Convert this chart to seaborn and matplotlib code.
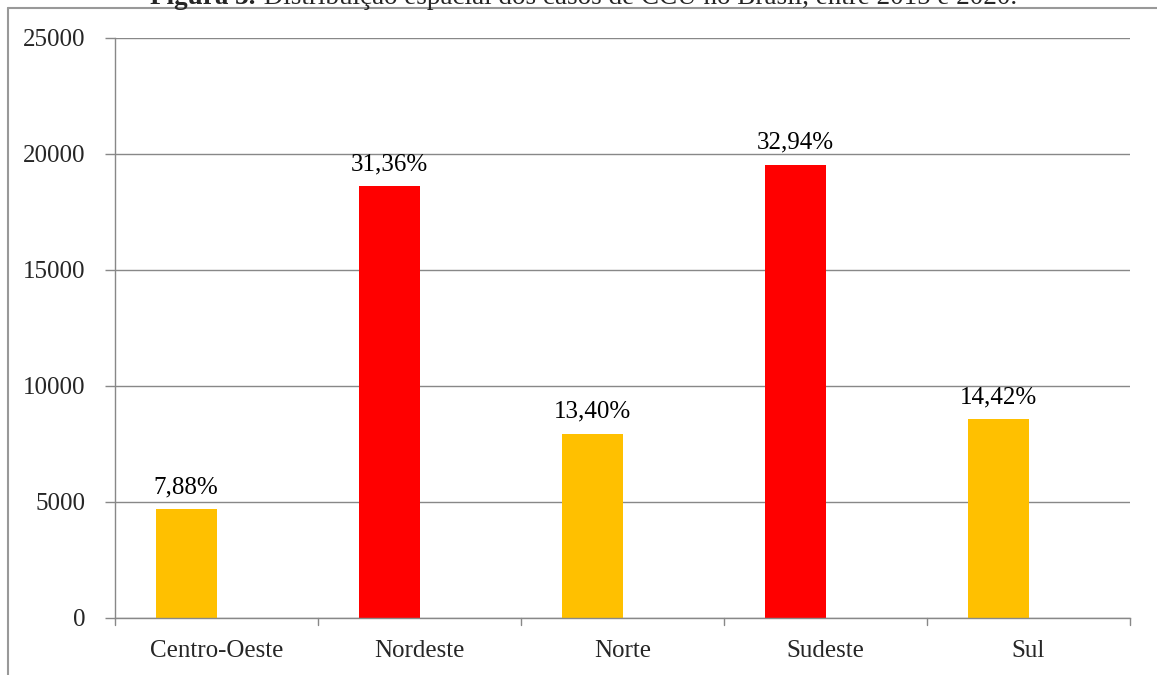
import matplotlib
matplotlib.use("Agg")
import matplotlib.pyplot as plt
import seaborn as sns
import pandas as pd
from matplotlib.lines import Line2D

regions = ["Centro-Oeste", "Nordeste", "Norte", "Sudeste", "Sul"]
cases = [4680, 18600, 7950, 19540, 8560]
empty_series = [0, 0, 0, 0, 0]
pct_labels = ["7,88%", "31,36%", "13,40%", "32,94%", "14,42%"]
bar_colors = ["#FFC000", "#FF0000", "#FFC000", "#FF0000", "#FFC000"]
yticks = [0, 5000, 10000, 15000, 20000, 25000]

sns.set_theme(style="white")
plt.rcParams['font.family'] = ['Liberation Serif', 'DejaVu Serif']

W, H = 1157, 675
FS = 18
fig = plt.figure(figsize=(W / 100, H / 100), dpi=100)
ax = fig.add_axes([115 / W, 1 - 618 / H, (1130 - 115) / W, (618 - 38) / H])

df = pd.DataFrame({
    "region": regions * 2,
    "value": cases + empty_series,
    "series": ["casos"] * len(regions) + ["vazio"] * len(regions),
})
sns.barplot(data=df, x="region", y="value", hue="series", dodge=True,
            width=0.6, legend=False, ax=ax, saturation=1, edgecolor="none",
            palette=["#FFC000", "#FFFFFF"])

# recolor the visible bars per category
for patch, c in zip(ax.patches[:len(regions)], bar_colors):
    patch.set_facecolor(c)

ax.set_ylim(0, 25000)
ax.set_xlim(-0.5, len(regions) - 0.5)
ax.set_yticks(yticks)
ax.set_yticklabels([str(v) for v in yticks], fontsize=FS)
ax.set_xlabel("")
ax.set_ylabel("")
ax.tick_params(axis="x", labelsize=FS, length=0, pad=16)
ax.tick_params(axis="y", length=7, color="#888888", width=1, direction="out", pad=14, left=True)
ax.set_axisbelow(True)
ax.yaxis.grid(True, color="#888888", linewidth=1)
for s in ["top", "right"]:
    ax.spines[s].set_visible(False)
for s in ["left", "bottom"]:
    ax.spines[s].set_color("#888888")
    ax.spines[s].set_linewidth(1)

# category boundary ticks on x axis
for b in [i - 0.5 for i in range(len(regions) + 1)]:
    ax.plot([b, b], [0, -0.012], transform=ax.get_xaxis_transform(),
            color="#888888", linewidth=1, clip_on=False)

for patch, lab in zip(ax.patches[:len(regions)], pct_labels):
    xc = patch.get_x() + patch.get_width() / 2
    ax.annotate(lab, (xc, patch.get_height()), xytext=(0, 8), textcoords="offset points",
                ha="center", va="bottom", fontsize=FS, color="black")

# outer frame lines
fig.add_artist(Line2D([8 / W, 8 / W], [0, 1 - 8 / H], transform=fig.transFigure,
                      color="#999999", linewidth=1.5))
fig.add_artist(Line2D([8 / W, 1], [1 - 8 / H, 1 - 8 / H], transform=fig.transFigure,
                      color="#999999", linewidth=1.5))

# clipped caption at top
t1 = fig.text(150 / W, 1 - 3.5 / H, "Figura 3.", fontsize=19.5, fontweight="bold",
              ha="left", va="baseline")
fig.canvas.draw()
bb = t1.get_window_extent()
fig.text(bb.x1 / W + 0.001, 1 - 3.5 / H,
         " Distribuição espacial dos casos de CCU no Brasil, entre 2015 e 2020.",
         fontsize=19.5, ha="left", va="baseline")

fig.savefig("out.png", dpi=100)
